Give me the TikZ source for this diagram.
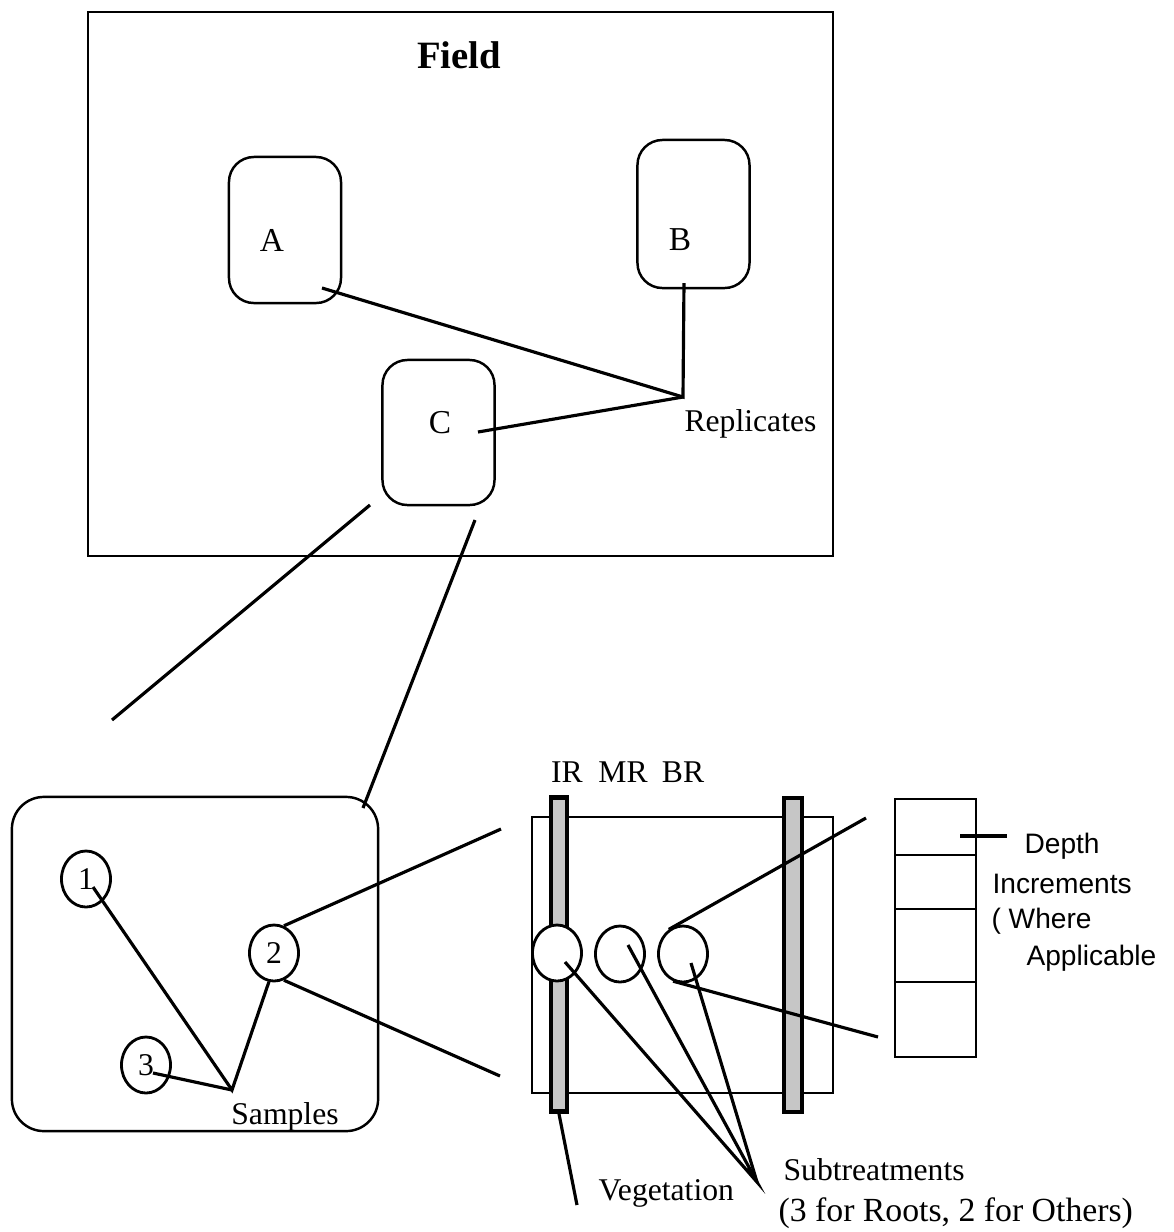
\documentclass[tikz,border=0pt]{standalone}
\usepackage{fontspec}
\setmainfont{Liberation Serif}
\newfontfamily\depthfont{Liberation Sans}
\usetikzlibrary{shapes.geometric}

\tikzset{
  repbox/.style={draw, rounded corners=0.25cm, minimum width=1.12cm, minimum height=1.46cm, line width=0.7pt},
  smpl/.style={draw, ellipse, inner sep=0pt, minimum width=0.49cm, minimum height=0.56cm, line width=0.8pt, font=\fontsize{9}{11}\selectfont},
  lbl/.style={inner sep=0pt, font=\fontsize{9}{11}\selectfont},
  dlbl/.style={inner sep=0pt, anchor=west, font=\depthfont\fontsize{8}{10}\selectfont},
  bar/.style={draw, line width=1.3pt, fill=gray!45, minimum width=0.16cm, minimum height=3.14cm, inner sep=0pt},
  cell/.style={draw, minimum width=0.81cm, inner sep=0pt, line width=0.7pt}
}

\begin{document}
\begin{tikzpicture}[x=0.01cm, y=-0.01cm, line width=0.9pt]
\useasboundingbox (0,0) rectangle (1174,1232);

% field with the three replicates
\node[draw, line width=0.7pt, minimum width=7.45cm, minimum height=5.44cm] (field) at (460.5,284) {};
\node[font=\bfseries\fontsize{11}{13}\selectfont] (title) at (459,55) {Field};
\node[repbox] (repA) at (285,230) {};
\node[repbox, minimum height=1.48cm] (repB) at (693.5,214) {};
\node[repbox, minimum height=1.45cm] (repC) at (438.5,432.5) {};
\node[lbl, font=\fontsize{9.5}{11}\selectfont] (lA) at (272,240) {A};
\node[lbl, font=\fontsize{9.5}{11}\selectfont] (lB) at (680,240) {B};
\node[lbl, font=\fontsize{9.5}{11}\selectfont] (lC) at (440,423) {C};
\coordinate (endA) at (322,288);
\coordinate (endB) at (684,283);
\coordinate (endC) at (478,432);
\coordinate (rjoin) at (683,397);
\draw (endA) -- (rjoin) -- (endB);
\draw (endC) -- (rjoin);
\node[lbl, anchor=west] (replab) at (683,424) {Replicates};

% zoom lines
\coordinate (zc1) at (370,505);
\coordinate (zc2) at (475,520);
\coordinate (zs1) at (112,720);
\coordinate (zs2) at (363,808);
\draw (zc1) -- (zs1);
\draw (zc2) -- (zs2);

% samples
\node[draw, line width=0.7pt, rounded corners=0.32cm, minimum width=3.66cm, minimum height=3.34cm] (sampbox) at (195,964) {};
\node[smpl] (s1) at (86,879) {1};
\node[smpl] (s2) at (274,953) {2};
\node[smpl] (s3) at (146,1065) {3};
\coordinate (t1) at (93,887);
\coordinate (t3) at (153,1073);
\coordinate (sjoin) at (232,1090);
\draw (t1) -- (sjoin) -- (s2.-100);
\draw (t3) -- (sjoin);
\node[lbl] (samplab) at (285,1117) {Samples};

% plot with the subtreatments
\node[draw, line width=0.7pt, minimum width=3.01cm, minimum height=2.76cm] (bed) at (682.5,955) {};
\node[bar] (barL) at (559,954.5) {};
\node[bar, minimum width=0.18cm] (barR) at (793,955) {};
\node[smpl, fill=white] (cIR) at (557,953) {};
\node[smpl, fill=white] (cMR) at (620,954) {};
\node[smpl, fill=white] (cBR) at (683,954) {};
\node[lbl] (lIR) at (567,772) {IR};
\node[lbl] (lMR) at (623,772) {MR};
\node[lbl] (lBR) at (683,772) {BR};
\coordinate (pu) at (501,829);
\coordinate (pl) at (500,1076);
\draw (s2.70) -- (pu);
\draw (s2.-70) -- (pl);
\coordinate (bu) at (866,818);
\coordinate (bl) at (878,1037);
\draw (cBR.120) -- (bu);
\draw (cBR.-110) -- (bl);

% subtreatments and vegetation
\coordinate (ti) at (565,962);
\coordinate (tm) at (628,945);
\coordinate (tb) at (691,963);
\coordinate (sub) at (757,1182);
\draw (ti) -- (sub) -- (tm);
\draw (tb) -- (sub);
\node[lbl, anchor=west] (sublab) at (782,1170) {Subtreatments};
\node[lbl, anchor=west, font=\fontsize{9.6}{11}\selectfont] (sublab2) at (777,1213) {(3 for Roots, 2 for Others)};
\coordinate (veg) at (577,1205);
\draw (barL.south) -- (veg);
\node[lbl, anchor=west] (veglab) at (597,1193) {Vegetation};

% depth increments
\node[cell, minimum height=0.56cm] (d1) at (935.5,827) {};
\node[cell, minimum height=0.54cm] (d2) at (935.5,882) {};
\node[cell, minimum height=0.73cm] (d3) at (935.5,945.5) {};
\node[cell, minimum height=0.75cm] (d4) at (935.5,1019.5) {};
\coordinate (dp) at (960,836);
\coordinate (dq) at (1007,836);
\draw (dp) -- (dq);
\node[dlbl] (dl1) at (1023,846) {Depth};
\node[dlbl] (dl2) at (991,884) {Increments};
\node[dlbl] (dl3) at (990,921) {( Where};
\node[dlbl] (dl4) at (1025,958) {Applicable};
\end{tikzpicture}
\end{document}
